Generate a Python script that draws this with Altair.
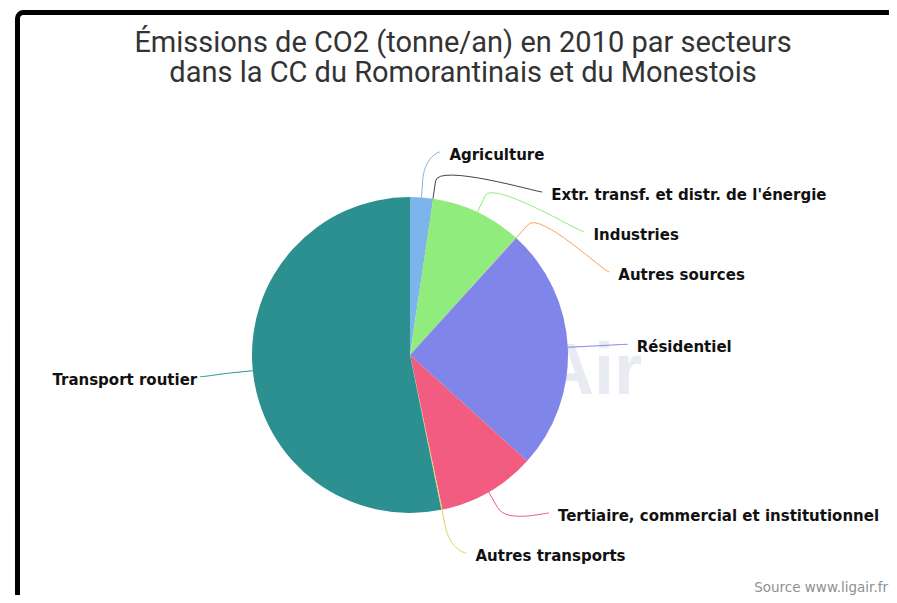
import math
import pandas as pd
import altair as alt

# ---------------- data ----------------
categories = [
    "Agriculture",
    "Extr. transf. et distr. de l'énergie",
    "Industries",
    "Autres sources",
    "Résidentiel",
    "Tertiaire, commercial et institutionnel",
    "Autres transports",
    "Transport routier",
]
values = [5800, 60, 23500, 100, 62700, 25100, 300, 133500]
colors = ["#7cb5ec", "#434348", "#90ed7d", "#f7a35c", "#8085e9", "#f15c80", "#e4d354", "#2b908f"]

title_lines = [
    "Émissions de CO2 (tonne/an) en 2010 par secteurs",
    "dans la CC du Romorantinais et du Monestois",
]
credit = "Source www.ligair.fr"
watermark = "Air"

# ---------------- layout ----------------
W, H = 881, 587
CX, CY, R = 402, 347, 158          # pie centre / radius (view px)
RN = 218                            # natural label radius
TOP, BOT, GAP = CY - 203, CY + 198, 40
ECY, EA, EB = CY, 218, 205          # label x ellipse
OFF = 18                            # connector break outside pie

xs = alt.Scale(domain=[0, W], range=[0, W])
ys = alt.Scale(domain=[0, H], range=[0, H])

total = float(sum(values))
mids = []
acc = 0.0
for v in values:
    a0 = acc / total * 2 * math.pi
    acc += v
    a1 = acc / total * 2 * math.pi
    mids.append((a0 + a1) / 2)


def spread(idx):
    idx = sorted(idx, key=lambda i: CY - RN * math.cos(mids[i]))
    yv = [min(max(CY - RN * math.cos(mids[i]), TOP), BOT) for i in idx]
    for k in range(1, len(yv)):
        yv[k] = max(yv[k], yv[k - 1] + GAP)
    if yv:
        yv[-1] = min(yv[-1], BOT)
    for k in range(len(yv) - 2, -1, -1):
        yv[k] = min(yv[k], yv[k + 1] - GAP)
    return dict(zip(idx, yv))


right_idx = [i for i, m in enumerate(mids) if m < math.pi]
left_idx = [i for i, m in enumerate(mids) if m >= math.pi]
ypos = {}
ypos.update(spread(right_idx))
ypos.update(spread(left_idx))

lab_rows, con_rows = [], []
for i, cat in enumerate(categories):
    y = ypos[i]
    s = math.sqrt(max(0.0, 1 - ((y - ECY) / EB) ** 2))
    a = mids[i]
    if i in right_idx:
        lx = CX + EA * s
        tx, side, d = lx + 9, "right", 1
        p0 = (lx, y)
    else:
        lx = CX - EA * s + 2
        tx, side, d = lx + 2, "left", -1
        p0 = (lx + 5, y)
    lab_rows.append({"category": cat, "tx": tx, "ty": y + 3, "side": side})
    p4 = (CX + R * math.sin(a), CY - R * math.cos(a))
    p2 = (CX + (R + OFF) * math.sin(a), CY - (R + OFF) * math.cos(a))
    c1 = (p0[0] - 5 * d, p0[1])
    c2 = (2 * p2[0] - p4[0], 2 * p2[1] - p4[1])
    n = 16
    for k in range(n + 1):
        t = k / n
        bx = (1 - t) ** 3 * p0[0] + 3 * (1 - t) ** 2 * t * c1[0] + 3 * (1 - t) * t ** 2 * c2[0] + t ** 3 * p2[0]
        by = (1 - t) ** 3 * p0[1] + 3 * (1 - t) ** 2 * t * c1[1] + 3 * (1 - t) * t ** 2 * c2[1] + t ** 3 * p2[1]
        con_rows.append({"category": cat, "k": k, "x": bx, "y": by})
    con_rows.append({"category": cat, "k": n + 1, "x": p4[0], "y": p4[1]})

pie_df = pd.DataFrame({"category": categories, "value": values, "idx": list(range(len(values)))})
lab_df = pd.DataFrame(lab_rows)
con_df = pd.DataFrame(con_rows)
one = pd.DataFrame({"d": [0]})

color = alt.Color("category:N", scale=alt.Scale(domain=categories, range=colors), legend=None)

frame = alt.Chart(one).mark_rect(fill="white", stroke="#000", strokeWidth=5, cornerRadius=6).encode(
    x=alt.value(9.5), y=alt.value(4.5), x2=alt.value(W + 60), y2=alt.value(H + 60)
)

title = alt.Chart(one).mark_text(
    font="Roboto", fontSize=29, color="#333333", align="center", baseline="alphabetic", lineHeight=29.5
).encode(
    x=alt.value(455), y=alt.value(44), text=alt.value(title_lines)
)

wm = alt.Chart(one).mark_text(
    text=watermark, font="Liberation Sans", fontWeight="bold", fontSize=72,
    color="#e9ebf3", align="right", baseline="alphabetic"
).encode(x=alt.value(634), y=alt.value(386))

pie = alt.Chart(pie_df).mark_arc(outerRadius=R).encode(
    theta=alt.Theta("value:Q", stack=True),
    color=color,
    order=alt.Order("idx:Q"),
    x=alt.value(CX),
    y=alt.value(CY),
)

connectors = alt.Chart(con_df).mark_line(strokeWidth=1).encode(
    x=alt.X("x:Q", scale=xs, axis=None),
    y=alt.Y("y:Q", scale=ys, axis=None),
    color=color,
    order=alt.Order("k:Q"),
)

lab_style = dict(font="DejaVu Sans", fontWeight="bold", fontSize=15, color="#111111", baseline="middle")
labels_r = alt.Chart(lab_df).transform_filter(alt.datum.side == "right").mark_text(align="left", **lab_style).encode(
    x=alt.X("tx:Q", scale=xs, axis=None), y=alt.Y("ty:Q", scale=ys, axis=None), text="category:N"
)
labels_l = alt.Chart(lab_df).transform_filter(alt.datum.side == "left").mark_text(align="right", **lab_style).encode(
    x=alt.X("tx:Q", scale=xs, axis=None), y=alt.Y("ty:Q", scale=ys, axis=None), text="category:N"
)

src = alt.Chart(one).mark_text(
    text=credit, font="DejaVu Sans", fontSize=13.5, color="#909090", align="right", baseline="alphabetic"
).encode(x=alt.value(880), y=alt.value(584))

chart = alt.layer(frame, title, wm, pie, connectors, labels_r, labels_l, src).properties(
    width=W, height=H, autosize=alt.AutoSizeParams(type="none"), padding=0
).configure_view(strokeWidth=0)

chart.save("out.html", embed_options={"renderer": "svg", "actions": False})
